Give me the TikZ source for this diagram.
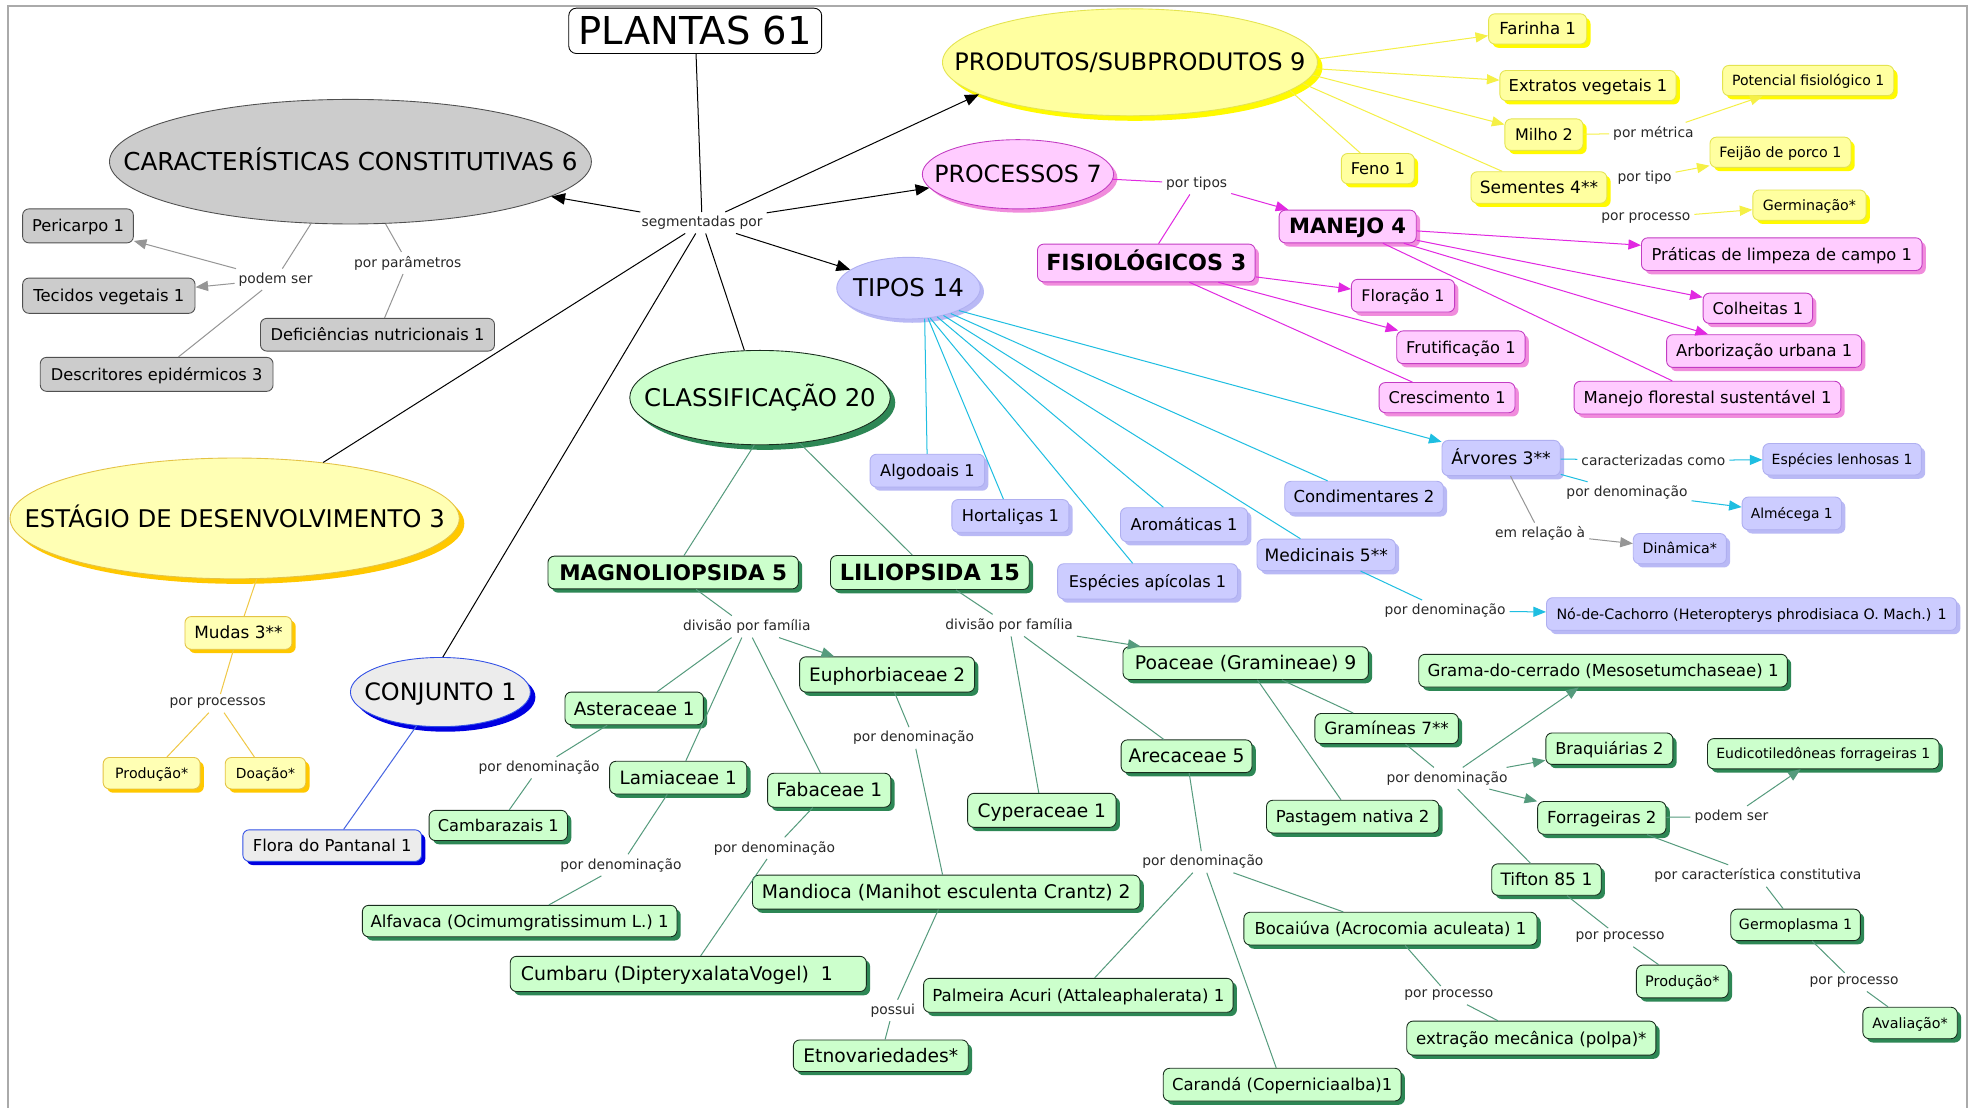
\documentclass[tikz,border=0pt]{standalone}
\usepackage{fontspec}
\setmainfont{DejaVu Sans}
\usepackage{graphicx}
\usetikzlibrary{shapes.geometric,arrows.meta,shadows}

\definecolor{grayfill}{RGB}{204,204,204}
\definecolor{graydraw}{RGB}{80,80,80}
\definecolor{grayline}{RGB}{150,150,150}
\definecolor{yelfill}{RGB}{255,255,160}
\definecolor{yeldraw}{RGB}{228,228,80}
\definecolor{yelshad}{RGB}{255,250,0}
\definecolor{yelline}{RGB}{245,240,70}
\definecolor{golfill}{RGB}{255,255,180}
\definecolor{goldraw}{RGB}{228,195,70}
\definecolor{golshad}{RGB}{255,200,0}
\definecolor{golline}{RGB}{240,200,70}
\definecolor{pinfill}{RGB}{255,204,255}
\definecolor{pindraw}{RGB}{195,60,195}
\definecolor{pinshad}{RGB}{240,140,220}
\definecolor{pinline}{RGB}{225,40,225}
\definecolor{blufill}{RGB}{204,204,255}
\definecolor{bludraw}{RGB}{175,175,240}
\definecolor{blushad}{RGB}{185,185,245}
\definecolor{bluline}{RGB}{30,190,225}
\definecolor{grnfill}{RGB}{204,255,204}
\definecolor{grndraw}{RGB}{25,45,30}
\definecolor{grnshad}{RGB}{45,135,85}
\definecolor{grnline}{RGB}{85,155,125}
\definecolor{cjfill}{RGB}{236,236,236}
\definecolor{cjdraw}{RGB}{50,80,230}
\definecolor{cjshad}{RGB}{0,0,225}
\definecolor{cjline}{RGB}{70,100,225}
\definecolor{framegray}{RGB}{170,170,170}
\definecolor{labtext}{RGB}{40,40,40}

% text scaled to a given width, with a fixed vertical extent
\newcommand\fitto[2]{\resizebox{#1pt}{!}{#2\vphantom{Ág}}}
% rounded box: style, name, x, y, width, height, text width, text
\newcommand\mapbox[8]{\node[#1,minimum width=#5pt,minimum height=#6pt] (#2) at (#3,#4) {\fitto{#7}{#8}};}
% ellipse: same arguments, text does not enlarge the shape
\newcommand\mapell[8]{\node[#1,minimum width=#5pt,minimum height=#6pt] (#2) at (#3,#4) {\makebox[0pt]{\fitto{#7}{#8}}};}

\tikzset{
  boxbase/.style={rectangle, rounded corners=5pt, inner sep=0pt, line width=0.7pt, font=\fontsize{13}{15}\selectfont},
  ellbase/.style={ellipse, inner sep=0pt, line width=0.7pt, font=\fontsize{19}{22}\selectfont},
  shad/.style={drop shadow={shadow xshift=3pt, shadow yshift=-3pt, fill=#1, opacity=1}},
  planbox/.style={boxbase, rounded corners=6pt, fill=white, draw=black},
  graybox/.style={boxbase, fill=grayfill, draw=graydraw},
  yelbox/.style={boxbase, fill=yelfill, draw=yeldraw, shad=yelshad},
  golbox/.style={boxbase, fill=golfill, draw=goldraw, shad=golshad},
  pinbox/.style={boxbase, fill=pinfill, draw=pindraw, shad=pinshad},
  blubox/.style={boxbase, fill=blufill, draw=bludraw, shad=blushad},
  grnbox/.style={boxbase, fill=grnfill, draw=grndraw, shad=grnshad},
  cjbox/.style={boxbase, fill=cjfill, draw=cjdraw, shad=cjshad},
  grayell/.style={ellbase, fill=grayfill, draw=graydraw},
  yelell/.style={ellbase, fill=yelfill, draw=yeldraw, drop shadow={shadow xshift=4pt, shadow yshift=-4pt, fill=yelshad, opacity=1}},
  golell/.style={ellbase, fill=golfill, draw=goldraw, drop shadow={shadow xshift=4pt, shadow yshift=-4pt, fill=golshad, opacity=1}},
  pinell/.style={ellbase, fill=pinfill, draw=pindraw, shad=pinshad},
  bluell/.style={ellbase, fill=blufill, draw=bludraw, shad=blushad},
  grnell/.style={ellbase, fill=grnfill, draw=grndraw, drop shadow={shadow xshift=4pt, shadow yshift=-4pt, fill=grnshad, opacity=1}},
  cjell/.style={ellbase, fill=cjfill, draw=cjdraw, drop shadow={shadow xshift=4pt, shadow yshift=-4pt, fill=cjshad, opacity=1}},
  lab/.style={inner sep=3pt, text=labtext, font=\fontsize{11}{13}\selectfont},
  conn/.style={line width=0.8pt, draw=#1},
  kln/.style={conn=black},
  gln/.style={conn=grayline},
  yln/.style={conn=yelline},
  oln/.style={conn=golline},
  pln/.style={conn=pinline},
  bln/.style={conn=bluline},
  vln/.style={conn=grnline},
  cln/.style={conn=cjline},
  arw/.style={-{Triangle[length=10pt,width=8pt]}},
  karw/.style={-{Triangle[length=11pt,width=9pt]}},
}

\begin{document}
\begin{tikzpicture}[x=1pt,y=-1pt]
\useasboundingbox[fill=white] (0,0) rectangle (1568,880);
\draw[framegray, line width=1.3pt] (6.5,900) -- (6.5,5) -- (1563,5) -- (1563,900);

% ---- main concepts
\mapbox{planbox}{plan}{552.5}{24.5}{201}{36}{185}{PLANTAS 61}
\node[lab] (segm) at (558,177) {segmentadas por};
\mapell{grayell}{carac}{278.5}{128.5}{383}{99}{361}{CARACTERÍSTICAS CONSTITUTIVAS 6}
\mapell{yelell}{prod}{898}{49.5}{298}{85}{279}{PRODUTOS/SUBPRODUTOS 9}
\mapell{pinell}{proc}{809}{138.5}{152}{55}{133}{PROCESSOS 7}
\mapell{bluell}{tipo}{722}{229}{114}{49}{88}{TIPOS 14}
\mapell{grnell}{clas}{604}{316}{207}{75}{184}{CLASSIFICAÇÃO 20}
\mapell{golell}{esta}{186.5}{412}{357}{96}{334}{ESTÁGIO DE DESENVOLVIMENTO 3}
\mapell{cjell}{conj}{350}{550}{143}{55}{121}{CONJUNTO 1}

% ---- constitutive characteristics
\mapbox{graybox}{peri}{62}{179.5}{88}{27}{73}{Pericarpo 1}
\mapbox{graybox}{teci}{86.5}{235}{137}{28}{120}{Tecidos vegetais 1}
\mapbox{graybox}{defi}{300}{266}{186}{26}{170}{Deficiências nutricionais 1}
\mapbox{graybox}{desc}{124.5}{297.5}{185}{27}{168}{Descritores epidérmicos 3}
\node[lab] (podem) at (219,222) {podem ser};
\node[lab] (ppar) at (324,209) {por parâmetros};

% ---- products
\mapbox{yelbox}{fari}{1222}{23}{78}{24}{61}{Farinha 1}
\mapbox{yelbox}{extr}{1262}{68}{140}{24}{126}{Extratos vegetais 1}
\mapbox{yelbox}{milh}{1227}{107}{62}{25}{46}{Milho 2}
\mapbox{yelbox}{feno}{1095}{134}{58}{24}{43}{Feno 1}
\mapbox{yelbox}{seme}{1223}{149}{108}{25}{94}{Sementes 4**}
\mapbox{yelbox}{pote}{1437}{64}{136}{24}{121}{Potencial fisiológico 1}
\mapbox{yelbox}{feij}{1415}{121}{112}{24}{97}{Feijão de porco 1}
\mapbox{yelbox}{germ}{1438}{163}{90}{24}{74}{Germinação*}
\node[lab] (pmet) at (1314,106) {por métrica};
\node[lab] (ptipo) at (1307,141.5) {por tipo};
\node[lab] (pproc) at (1308,173.5) {por processo};

% ---- processes
\mapbox{pinbox}{mane}{1071}{180}{109}{26}{93}{\bfseries MANEJO 4}
\mapbox{pinbox}{fisi}{911}{209}{173}{30}{159}{\bfseries FISIOLÓGICOS 3}
\mapbox{pinbox}{flor}{1115}{235}{82}{26}{66}{Floração 1}
\mapbox{pinbox}{frut}{1161}{276}{102}{26}{87}{Frutificação 1}
\mapbox{pinbox}{cres}{1150}{316}{108}{24}{93}{Crescimento 1}
\mapbox{pinbox}{prat}{1416}{202}{223}{26}{207}{Práticas de limpeza de campo 1}
\mapbox{pinbox}{colh}{1397}{245}{87}{24}{72}{Colheitas 1}
\mapbox{pinbox}{arbo}{1402}{279}{155}{26}{140}{Arborização urbana 1}
\mapbox{pinbox}{manf}{1357}{316}{212}{26}{197}{Manejo florestal sustentável 1}
\node[lab] (ptipos) at (951,146) {por tipos};

% ---- types
\mapbox{blubox}{alg}{737}{374}{91}{26}{75}{Algodoais 1}
\mapbox{blubox}{hor}{803}{410}{93}{26}{77}{Hortaliças 1}
\mapbox{blubox}{aro}{941}{417}{101}{27}{85}{Aromáticas 1}
\mapbox{blubox}{api}{912}{462}{143}{28}{125}{Espécies apícolas 1}
\mapbox{blubox}{cond}{1084}{395}{126}{25}{112}{Condimentares 2}
\mapbox{blubox}{med}{1054}{441}{110}{25}{98}{Medicinais 5**}
\mapbox{blubox}{arv}{1193}{364}{94}{28}{79}{Árvores 3**}
\mapbox{blubox}{lenh}{1464}{365}{126}{25}{112}{Espécies lenhosas 1}
\mapbox{blubox}{alme}{1424}{408}{79}{26}{65}{Almécega 1}
\mapbox{blubox}{dina}{1335}{436}{74}{24}{59}{Dinâmica*}
\mapbox{blubox}{noca}{1392}{488}{326}{26}{310}{Nó-de-Cachorro (Heteropterys phrodisiaca O. Mach.) 1}
\node[lab] (caract) at (1314,366) {caracterizadas como};
\node[lab] (pden1) at (1293,391.5) {por denominação};
\node[lab] (emrel) at (1224,424) {em relação à};
\node[lab] (pden2) at (1148.5,485.5) {por denominação};

% ---- classification
\mapbox{grnbox}{magn}{535}{455}{199}{26}{181}{\bfseries MAGNOLIOPSIDA 5}
\mapbox{grnbox}{lili}{739}{455}{158}{27}{143}{\bfseries LILIOPSIDA 15}
\node[lab] (div1) at (593.5,498) {divisão por família};
\node[lab] (div2) at (802,497) {divisão por família};
\mapbox{grnbox}{aste}{504}{563}{110}{26}{96}{Asteraceae 1}
\mapbox{grnbox}{lami}{539}{618}{109}{26}{93}{Lamiaceae 1}
\mapbox{grnbox}{faba}{659}{628}{98}{27}{84}{Fabaceae 1}
\mapbox{grnbox}{euph}{705}{536}{139}{28}{124}{Euphorbiaceae 2}
\mapbox{grnbox}{camb}{396}{656}{110}{24}{96}{Cambarazais 1}
\mapbox{grnbox}{alfa}{413}{732}{250}{25}{237}{Alfavaca (Ocimumgratissimum L.) 1}
\mapbox{grnbox}{cumb}{547}{774}{283}{28}{266}{Cumbaru (DipteryxalataVogel)~~1\hspace{1.2em}}
\mapbox{grnbox}{mand}{752}{709}{308}{27}{293}{Mandioca (Manihot esculenta Crantz) 2}
\mapbox{grnbox}{etno}{700}{839}{139}{25}{123}{Etnovariedades*}
\mapbox{grnbox}{poac}{990}{527}{195}{26}{176}{Poaceae (Gramineae) 9}
\mapbox{grnbox}{cype}{828}{644}{118}{27}{102}{Cyperaceae 1}
\mapbox{grnbox}{arec}{943}{601}{104}{26}{92}{Arecaceae 5}
\mapbox{grnbox}{gram}{1102}{579}{114}{24}{99}{Gramíneas 7**}
\mapbox{grnbox}{past}{1075}{649}{137}{26}{122}{Pastagem nativa 2}
\mapbox{grnbox}{gcer}{1274}{533}{293}{26}{279}{Grama-do-cerrado (Mesosetumchaseae) 1}
\mapbox{grnbox}{braq}{1279}{595}{101}{25}{86}{Braquiárias 2}
\mapbox{grnbox}{forr}{1273}{650}{102}{26}{87}{Forrageiras 2}
\mapbox{grnbox}{eudi}{1449}{599}{184}{24}{170}{Eudicotiledôneas forrageiras 1}
\mapbox{grnbox}{tift}{1229}{699}{87}{25}{73}{Tifton 85 1}
\mapbox{grnbox}{germo}{1427}{735}{103}{25}{90}{Germoplasma 1}
\mapbox{grnbox}{prod2}{1337}{780}{73}{26}{59}{Produção*}
\mapbox{grnbox}{aval}{1518}{813}{75}{25}{60}{Avaliação*}
\mapbox{grnbox}{boca}{1105}{738}{233}{26}{216}{Bocaiúva (Acrocomia aculeata) 1}
\mapbox{grnbox}{palm}{857}{791}{246}{27}{232}{Palmeira Acuri (Attaleaphalerata) 1}
\mapbox{grnbox}{extm}{1217}{825}{198}{27}{183}{extração mecânica (polpa)*}
\mapbox{grnbox}{cara}{1019}{862}{189}{26}{175}{Carandá (Coperniciaalba)1}
\node[lab] (pden3) at (428.5,610) {por denominação};
\node[lab] (pden4) at (493.5,687.5) {por denominação};
\node[lab] (pden5) at (615.5,674) {por denominação};
\node[lab] (pden6) at (726,586.5) {por denominação};
\node[lab] (poss) at (709.5,803) {possui};
\node[lab] (pden7) at (956,685) {por denominação};
\node[lab] (pden8) at (1150,618.5) {por denominação};
\node[lab] (podem2) at (1376,649) {podem ser};
\node[lab] (pcar) at (1397,696) {por característica constitutiva};
\node[lab] (ppr1) at (1287.5,745) {por processo};
\node[lab] (ppr2) at (1473.5,780.5) {por processo};
\node[lab] (ppr3) at (1151.5,791) {por processo};

% ---- development stage
\mapbox{golbox}{muda}{189.5}{503}{85}{26}{70}{Mudas 3**}
\mapbox{golbox}{prod1}{120.5}{614.5}{77}{25}{58}{Produção*}
\mapbox{golbox}{doac}{211}{614.5}{64}{25}{47}{Doação*}
\node[lab] (pprs) at (173,559) {por processos};

% ---- set
\mapbox{cjbox}{flor2}{264}{672}{142}{25}{126}{Flora do Pantanal 1}

% ---- connectors from the root
\draw[kln] (plan) -- (segm);
\draw[kln,karw] (segm) -- (carac);
\draw[kln,karw] (segm) -- (prod.-168);
\draw[kln,karw] (segm) -- (proc);
\draw[kln,karw] (segm) -- (tipo);
\draw[kln] (segm) -- (clas);
\draw[kln] (segm) -- (esta);
\draw[kln] (segm) -- (conj.86);

% constitutive characteristics
\draw[gln] (carac) -- (podem);
\draw[gln,arw] (podem) -- (peri);
\draw[gln,arw] (podem) -- (teci);
\draw[gln] (podem) -- (desc);
\draw[gln] (carac) -- (ppar);
\draw[gln] (ppar) -- (defi);

% products
\draw[yln,arw] (prod.1) -- (fari);
\draw[yln,arw] (prod.-2) -- (extr);
\draw[yln,arw] (prod.-4) -- (milh);
\draw[yln] (prod.-10) -- (feno);
\draw[yln] (prod.-7) -- (seme);
\draw[yln] (milh) -- (pmet);
\draw[yln,arw] (pmet) -- (pote);
\draw[yln,arw] (ptipo) -- (feij);
\draw[yln,arw] (pproc) -- (germ);

% processes
\draw[pln] (proc) -- (ptipos);
\draw[pln,arw] (ptipos) -- (mane);
\draw[pln] (ptipos) -- (fisi);
\draw[pln,arw] (fisi) -- (flor);
\draw[pln,arw] (fisi) -- (frut);
\draw[pln] (fisi) -- (cres);
\draw[pln,arw] (mane) -- (prat);
\draw[pln,arw] (mane) -- (colh);
\draw[pln,arw] (mane) -- (arbo);
\draw[pln] (mane) -- (manf);

% types
\draw[bln] (tipo.-62) -- (alg);
\draw[bln] (tipo.-57) -- (hor);
\draw[bln] (tipo.-45) -- (aro);
\draw[bln] (tipo.-54) -- (api);
\draw[bln] (tipo.-31) -- (cond);
\draw[bln] (tipo.-38) -- (med);
\draw[bln,arw] (tipo.-24) -- (arv);
\draw[bln] (arv) -- (caract);
\draw[bln,arw] (caract) -- (lenh);
\draw[bln] (arv) -- (pden1);
\draw[bln,arw] (pden1) -- (alme);
\draw[gln] (arv) -- (emrel);
\draw[gln,arw] (emrel) -- (dina);
\draw[bln] (med) -- (pden2);
\draw[bln,arw] (pden2) -- (noca);

% classification
\draw[vln] (clas.-97) -- (magn);
\draw[vln] (clas.-49) -- (lili);
\draw[vln] (magn) -- (div1);
\draw[vln] (div1) -- (aste);
\draw[vln] (div1) -- (lami);
\draw[vln] (div1) -- (faba);
\draw[vln,arw] (div1) -- (euph);
\draw[vln] (lili) -- (div2);
\draw[vln,arw] (div2) -- (poac);
\draw[vln] (div2) -- (cype);
\draw[vln] (div2) -- (arec);
\draw[vln] (aste) -- (pden3);
\draw[vln] (pden3) -- (camb);
\draw[vln] (lami) -- (pden4);
\draw[vln] (pden4) -- (alfa);
\draw[vln] (faba) -- (pden5);
\draw[vln] (pden5) -- (cumb);
\draw[vln] (euph) -- (pden6);
\draw[vln] (pden6) -- (mand);
\draw[vln] (mand) -- (poss);
\draw[vln] (poss) -- (etno);
\draw[vln] (arec) -- (pden7);
\draw[vln] (pden7) -- (palm);
\draw[vln] (pden7) -- (cara);
\draw[vln] (pden7) -- (boca);
\draw[vln] (poac) -- (gram);
\draw[vln] (poac) -- (past);
\draw[vln] (gram) -- (pden8);
\draw[vln,arw] (pden8) -- (gcer);
\draw[vln,arw] (pden8) -- (braq);
\draw[vln,arw] (pden8) -- (forr);
\draw[vln] (pden8) -- (tift);
\draw[vln] (forr) -- (podem2);
\draw[vln,arw] (podem2) -- (eudi);
\draw[vln] (forr) -- (pcar);
\draw[vln] (pcar) -- (germo);
\draw[vln] (tift) -- (ppr1);
\draw[vln] (ppr1) -- (prod2);
\draw[vln] (germo) -- (ppr2);
\draw[vln] (ppr2) -- (aval);
\draw[vln] (boca) -- (ppr3);
\draw[vln] (ppr3) -- (extm);

% development stage
\draw[oln] (esta.-70) -- (muda);
\draw[oln] (muda) -- (pprs);
\draw[oln] (pprs) -- (prod1);
\draw[oln] (pprs) -- (doac);

% set
\draw[cln] (conj) -- (flor2);
\end{tikzpicture}
\end{document}
